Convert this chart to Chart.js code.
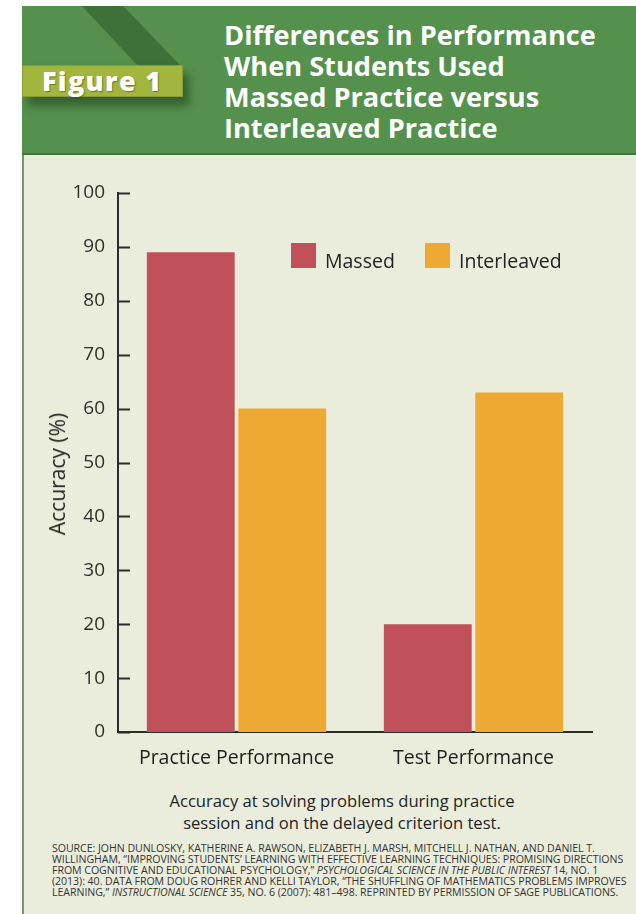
<!DOCTYPE html>
<html>
<head>
<meta charset="utf-8">
<script src="https://cdn.jsdelivr.net/npm/chart.js@4"></script>
<style>
  html, body { margin: 0; padding: 0; background: #fff; }
  body { width: 636px; height: 914px; position: relative; overflow: hidden; font-family: "Open Sans", sans-serif; }
  .panel { position: absolute; left: 22px; top: 6px; width: 614px; height: 908px; background: #ebeddc; border-left: 2px solid #6f9c66; box-sizing: border-box; }
  .header { position: absolute; left: 22px; top: 6px; width: 614px; height: 147px; background: #54914d; border-bottom: 2px solid #3f733b; overflow: hidden; }
  .stripe { position: absolute; left: 0; top: 0; width: 614px; height: 60px; background: #3d7139;
            clip-path: polygon(60px 0, 101px 0, 158px 59px, 115px 59px); }
  .figbox { position: absolute; left: 22px; top: 65px; width: 161px; height: 32px; background: #a2b53c; border: 1px solid #8a9c35; box-sizing: border-box;
            box-shadow: 6px 9px 8px rgba(30,60,25,0.55); color: #fff; font-weight: 800; font-size: 27px; line-height: 30px; text-indent: 19px; letter-spacing: 1.3px;
            text-shadow: 1px 1px 1px rgba(60,70,20,0.5); white-space: nowrap; }
  .title { position: absolute; left: 224px; top: 19px; color: #fff; font-weight: 700; font-size: 27.2px; line-height: 31px; letter-spacing: 0px; }
  .chartbox { position: absolute; left: 22px; top: 155px; width: 614px; height: 625px; }
  .ytitle { position: absolute; left: 57px; top: 474px; transform: translate(-50%, -50%) rotate(-90deg); font-size: 21px; color: #222; white-space: nowrap; }
  .legend { position: absolute; top: 243px; left: 291px; font-size: 19.5px; color: #222; }
  .legend span.item { position: absolute; white-space: nowrap; line-height: 25px; }
  .legend i { display: inline-block; width: 25px; height: 25px; vertical-align: top; margin-right: 9px; }
  .legend b { font-weight: 400; position: relative; top: 5px; }
  .caption { position: absolute; left: 22px; width: 640px; top: 790px; text-align: center; font-size: 16.6px; line-height: 22px; color: #222; }
  .source { position: absolute; left: 52px; top: 843px; font-size: 10.6px; line-height: 11.1px; color: #333; white-space: nowrap; letter-spacing: -0.05px; }
</style>
</head>
<body>
<div class="panel"></div>
<div class="header"><div class="stripe"></div></div>
<div class="figbox">Figure 1</div>
<div class="title">Differences in Performance<br>When Students Used<br>Massed Practice versus<br>Interleaved Practice</div>
<div class="chartbox"><canvas id="chart"></canvas></div>
<div class="ytitle" id="ytitle"></div>
<div class="legend" id="legend"></div>
<div class="caption">Accuracy at solving problems during practice<br>session and on the delayed criterion test.</div>
<div class="source">SOURCE: JOHN DUNLOSKY, KATHERINE A. RAWSON, ELIZABETH J. MARSH, MITCHELL J. NATHAN, AND DANIEL T.<br>WILLINGHAM, “IMPROVING STUDENTS’ LEARNING WITH EFFECTIVE LEARNING TECHNIQUES: PROMISING DIRECTIONS<br>FROM COGNITIVE AND EDUCATIONAL PSYCHOLOGY,” <i>PSYCHOLOGICAL SCIENCE IN THE PUBLIC INTEREST</i> 14, NO. 1<br>(2013): 40. DATA FROM DOUG ROHRER AND KELLI TAYLOR, “THE SHUFFLING OF MATHEMATICS PROBLEMS IMPROVES<br>LEARNING,” <i>INSTRUCTIONAL SCIENCE</i> 35, NO. 6 (2007): 481–498. REPRINTED BY PERMISSION OF SAGE PUBLICATIONS.</div>

<script>
const categories = ['Practice Performance', 'Test Performance'];
const seriesNames = ['Massed', 'Interleaved'];
const massed = [89, 20];
const interleaved = [60, 63];
const yTicks = [0, 10, 20, 30, 40, 50, 60, 70, 80, 90, 100];
const yTitle = 'Accuracy (%)';

const colors = ['#c0505a', '#eda932'];
const axisColor = '#2b2b2b';

// short tick marks drawn inside the plot, right of the y axis
const innerTicks = {
    id: 'innerTicks',
    afterDatasetsDraw(chart) {
        const y = chart.scales.y;
        const ctx = chart.ctx;
        ctx.save();
        ctx.strokeStyle = axisColor;
        ctx.lineWidth = 2;
        yTicks.forEach(v => {
            const py = Math.round(y.getPixelForValue(v)) + 0.5;
            ctx.beginPath();
            ctx.moveTo(chart.chartArea.left, py);
            ctx.lineTo(chart.chartArea.left + 12, py);
            ctx.stroke();
        });
        ctx.restore();
    }
};

const chart = new Chart(document.getElementById('chart'), {
    type: 'bar',
    data: {
        labels: categories,
        datasets: [
            { label: seriesNames[0], data: massed, backgroundColor: colors[0] },
            { label: seriesNames[1], data: interleaved, backgroundColor: colors[1] }
        ]
    },
    options: {
        responsive: true,
        maintainAspectRatio: false,
        animation: false,
        layout: { padding: { top: 38, right: 44, left: 0, bottom: 0 } },
        datasets: { bar: { categoryPercentage: 0.772, barPercentage: 0.96 } },
        plugins: {
            legend: { display: false },
            tooltip: { enabled: false }
        },
        scales: {
            x: {
                grid: { display: false, drawTicks: false },
                border: { display: true, color: axisColor, width: 2 },
                ticks: { color: '#1e1e1e', font: { family: 'Open Sans', size: 19.5 }, padding: 15 },
                afterFit(scale) { scale.height = 48; }
            },
            y: {
                min: 0, max: 100,
                afterBuildTicks(scale) { scale.ticks = yTicks.map(v => ({ value: v })); },
                grid: { display: false, drawTicks: false },
                border: { display: true, color: axisColor, width: 2 },
                ticks: { color: '#2e2e2e', font: { family: 'Open Sans', size: 19 }, padding: 13 },
                afterFit(scale) { scale.width = 96; }
            }
        }
    },
    plugins: [innerTicks]
});

document.getElementById('ytitle').textContent = yTitle;

// html legend built from the datasets
const legend = document.getElementById('legend');
const offsets = [0, 134];
chart.data.datasets.forEach((ds, i) => {
    const item = document.createElement('span');
    item.className = 'item';
    item.style.left = offsets[i] + 'px';
    item.innerHTML = `<i style="background:${ds.backgroundColor}"></i><b>${ds.label}</b>`;
    legend.appendChild(item);
});
</script>
</body>
</html>
